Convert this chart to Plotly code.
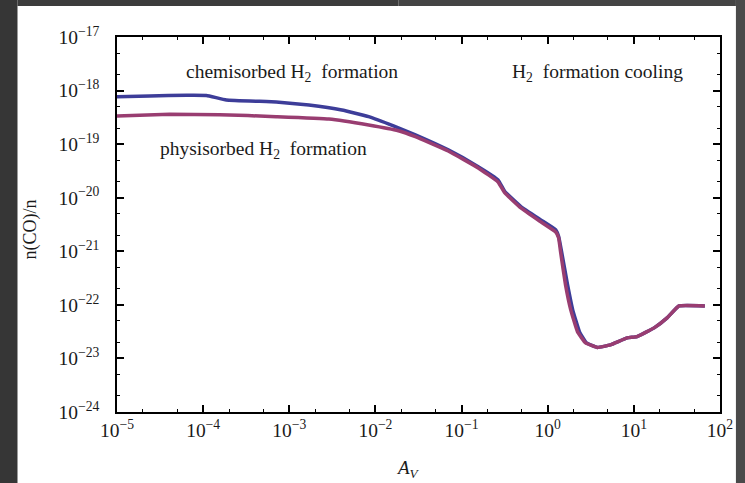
import plotly.graph_objects as go

# A_V values and n(CO)/n for the two curves
av_chemi = [1.0e-5, 2.40e-5, 6.43e-5, 1.09e-4, 1.86e-4, 7.05e-4, 1.69e-3, 4.07e-3, 8.34e-3,
            0.0162, 0.0291, 0.0700, 0.156, 0.265, 0.318, 0.488, 0.830, 1.24, 1.34, 1.45,
            1.70, 1.95, 2.34, 2.82, 3.78, 5.33, 8.39, 10.9, 17.2, 24.3, 33.4, 66.7]
n_chemi = [7.69e-19, 7.94e-19, 8.17e-19, 8.11e-19, 6.68e-19, 6.12e-19, 5.38e-19, 4.35e-19, 3.26e-19,
           2.19e-19, 1.49e-19, 7.80e-20, 3.80e-20, 2.15e-20, 1.30e-20, 6.82e-21, 3.85e-21, 2.51e-21,
           1.88e-21, 9.75e-22, 2.36e-22, 8.07e-23, 3.13e-23, 1.95e-23, 1.60e-23, 1.79e-23, 2.42e-23,
           2.56e-23, 3.72e-23, 5.71e-23, 9.57e-23, 9.57e-23]

av_physi = [1.0e-5, 4.09e-5, 1.55e-4, 7.05e-4, 2.88e-3, 8.34e-3, 0.0185, 0.0291, 0.0700, 0.156,
            0.265, 0.318, 0.488, 0.830, 1.24, 1.34, 1.41, 1.61, 1.85, 2.22, 2.75, 3.78, 5.33,
            8.39, 10.9, 17.2, 24.3, 33.4, 66.7]
n_physi = [3.36e-19, 3.61e-19, 3.55e-19, 3.26e-19, 2.95e-19, 2.28e-19, 1.78e-19, 1.38e-19, 7.46e-20,
           3.60e-20, 1.97e-20, 1.23e-20, 6.46e-21, 3.55e-21, 2.29e-21, 1.78e-21, 9.77e-22, 2.36e-22,
           8.07e-23, 3.13e-23, 1.95e-23, 1.60e-23, 1.79e-23, 2.42e-23, 2.56e-23, 3.72e-23, 5.71e-23,
           9.57e-23, 9.57e-23]

x_tick_exp = [-5, -4, -3, -2, -1, 0, 1, 2]
y_tick_exp = [-24, -23, -22, -21, -20, -19, -18, -17]

SERIF = "Liberation Serif, Times New Roman, serif"

fig = go.Figure()
fig.add_trace(go.Scatter(x=av_chemi, y=n_chemi, mode="lines",
                         line=dict(color="#3d3d99", width=3.5, shape="spline", smoothing=0.3),
                         showlegend=False))
fig.add_trace(go.Scatter(x=av_physi, y=n_physi, mode="lines",
                         line=dict(color="#993d71", width=3.5, shape="spline", smoothing=0.3),
                         showlegend=False))

def ticktexts(exps):
    return ["10<sup>\u2212%d</sup>" % (-e) if e < 0 else "10<sup>%d</sup>" % e for e in exps]

axis_common = dict(
    type="log", showgrid=False, zeroline=False,
    showline=True, linecolor="black", linewidth=1.5, mirror="ticks",
    ticks="inside", ticklen=7, tickwidth=1.5, tickcolor="black",
    tickfont=dict(family=SERIF, size=19.5, color="#1a1a1a"),
    minor=dict(ticks="inside", ticklen=3.5, tickwidth=1, tickcolor="black", showgrid=False),
)

fig.update_xaxes(range=[-5, 2], tickvals=[10.0 ** e for e in x_tick_exp],
                 ticktext=ticktexts(x_tick_exp), ticklabelstandoff=0, **axis_common)
fig.update_yaxes(range=[-24, -17], tickvals=[10.0 ** e for e in y_tick_exp],
                 ticktext=ticktexts(y_tick_exp), ticklabelstandoff=12, **axis_common)

L, R, T, B = 117, 22, 37, 71
W, H = 745, 483
pw, ph = W - L - R, H - T - B

def px2x(px):
    return (px - L) / pw

def py2y(py):
    return (H - B - py) / ph

annots = [
    dict(text="chemisorbed H<sub>2</sub>  formation", px=293, py=73),
    dict(text="physisorbed H<sub>2</sub>  formation", px=264, py=150),
    dict(text="H<sub>2</sub>  formation cooling", px=600, py=73),
]
for a in annots:
    fig.add_annotation(x=px2x(a["px"]), y=py2y(a["py"]), xref="paper", yref="paper",
                       text=a["text"], showarrow=False, xanchor="center", yanchor="middle",
                       font=dict(family=SERIF, size=19.5, color="#1a1a1a"))

fig.add_annotation(x=px2x(30), y=py2y(229), xref="paper", yref="paper",
                   text="n(CO)/n", textangle=-90, showarrow=False,
                   xanchor="center", yanchor="middle",
                   font=dict(family=SERIF, size=18, color="#1a1a1a"))
fig.add_annotation(x=px2x(409), y=py2y(469), xref="paper", yref="paper",
                   text="<i>A<sub>V</sub></i>", showarrow=False,
                   xanchor="center", yanchor="middle",
                   font=dict(family=SERIF, size=19, color="#1a1a1a"))

# dark slide border around the white panel
for x0, x1, y0, y1, col in [
    (-20, 17, -20, 520, "#363636"),
    (17, 400, -20, 6, "#3c3c3c"),
    (400, 739, -20, 6, "#444444"),
    (739, 800, -20, 520, "#4a4a4a"),
]:
    fig.add_shape(type="rect", xref="paper", yref="paper",
                  x0=px2x(x0), x1=px2x(x1), y0=py2y(y1), y1=py2y(y0),
                  fillcolor=col, line=dict(width=0), layer="below")

fig.update_layout(
    width=W, height=H,
    margin=dict(l=L, r=R, t=T, b=B),
    paper_bgcolor="white", plot_bgcolor="rgba(0,0,0,0)",
)

fig.write_html("out.html")
